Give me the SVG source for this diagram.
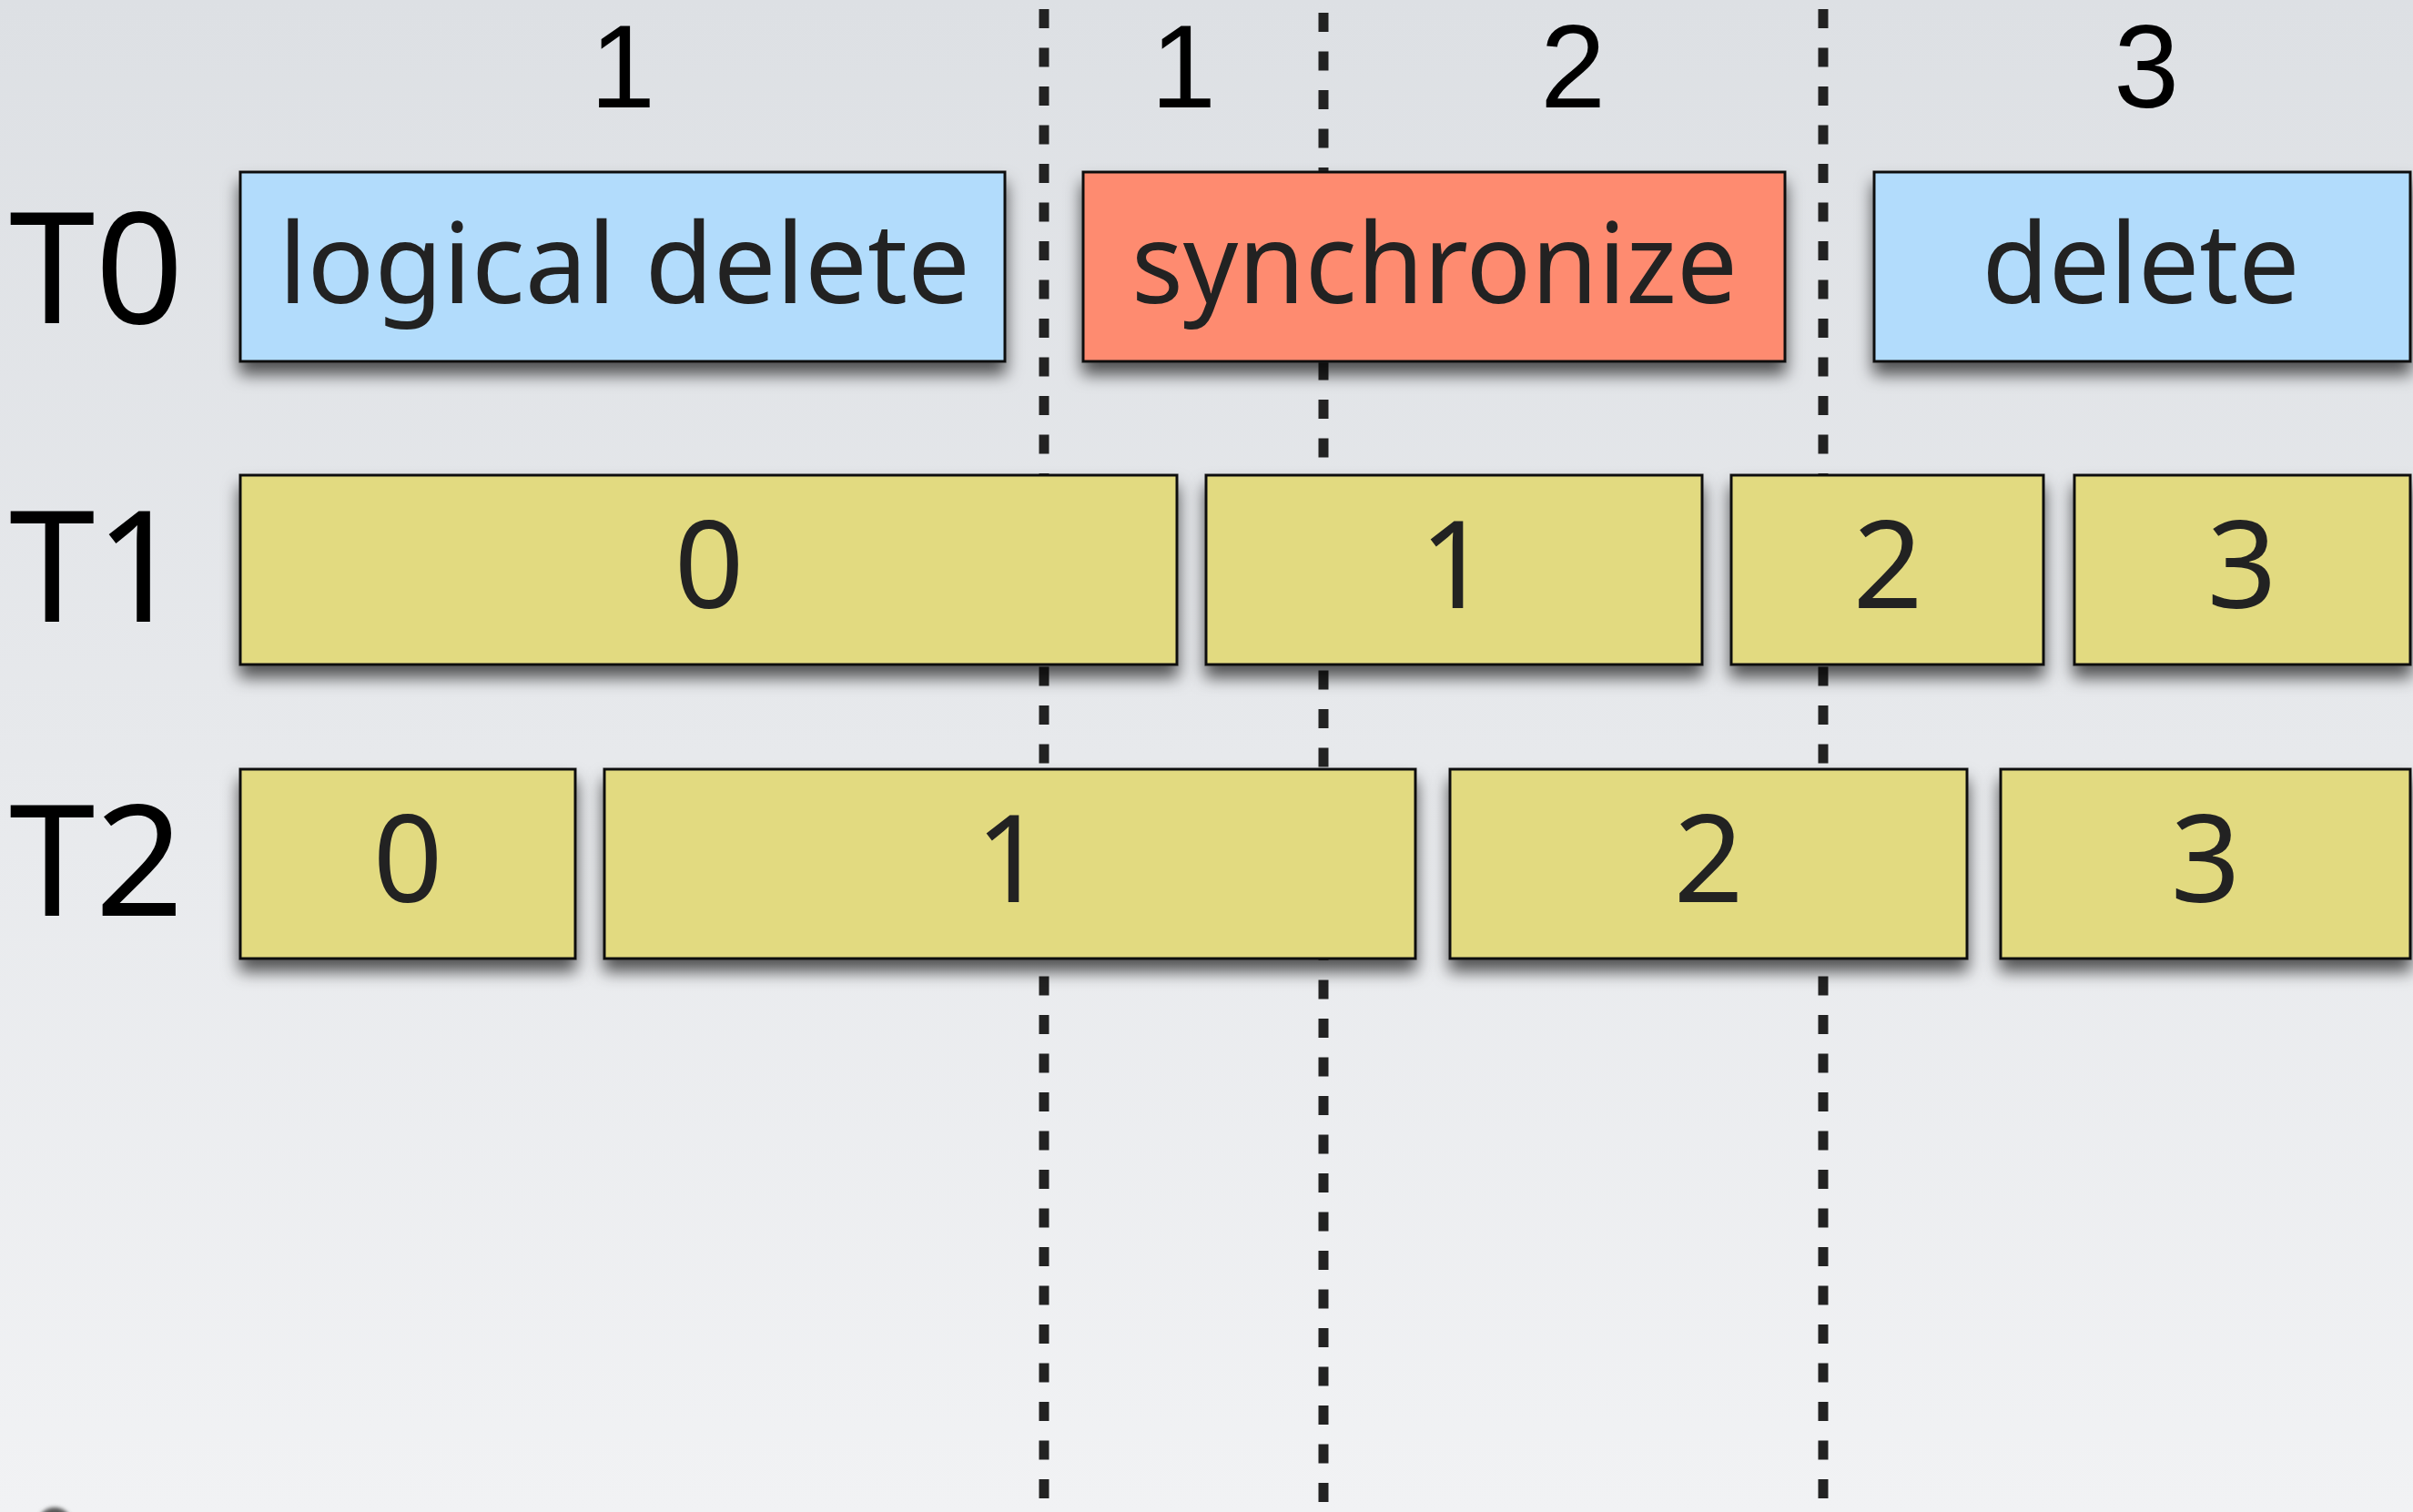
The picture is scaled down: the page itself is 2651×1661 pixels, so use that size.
<svg xmlns="http://www.w3.org/2000/svg" width="2651" height="1661" viewBox="0 0 2651 1661">
<defs>
<linearGradient id="bg" x1="0" y1="0" x2="0" y2="1">
<stop offset="0" stop-color="#dde0e4"/>
<stop offset="1" stop-color="#f1f2f4"/>
</linearGradient>
<filter id="shadow" x="-10%" y="-20%" width="120%" height="160%">
<feDropShadow dx="0" dy="13" stdDeviation="9" flood-color="#000" flood-opacity="0.65"/>
</filter>
<filter id="blur" x="-50%" y="-50%" width="200%" height="200%">
<feGaussianBlur stdDeviation="2"/>
</filter>
</defs>
<style>
.box{stroke:#111;stroke-width:3;filter:url(#shadow)}
.blue{fill:#b2dcfc}
.red{fill:#fe8b70}
.yel{fill:#e2da80}
.lbl{font-family:"Noto Sans","Open Sans",sans-serif;fill:#222;text-anchor:middle}
.big{font-size:122px}
.dig{font-size:134px}
.top{font-family:"Liberation Sans",Arial,sans-serif;font-size:129px;fill:#000;text-anchor:middle}
.row{font-family:"Noto Sans","Open Sans",sans-serif;font-size:170px;fill:#000}
.div{stroke:#222;stroke-width:11;stroke-dasharray:21 21.5;fill:none}
</style>
<rect x="0" y="0" width="2651" height="1661" fill="url(#bg)"/>
<ellipse cx="60" cy="1672" rx="18" ry="16" fill="#555" filter="url(#blur)"/>

<g id="dividers">
<line class="div" x1="1147" y1="10" x2="1147" y2="1661"/>
<line class="div" x1="1454" y1="14" x2="1454" y2="1661"/>
<line class="div" x1="2003" y1="10" x2="2003" y2="1661"/>
</g>

<g id="phase-labels">
<text class="top" x="684" y="118">1</text>
<text class="top" x="1300" y="118">1</text>
<text class="top" x="1728" y="118">2</text>
<text class="top" x="2358" y="118">3</text>
</g>

<g id="row-labels">
<text class="row" x="10" y="355">T0</text>
<text class="row" x="10" y="683">T1</text>
<text class="row" x="10" y="1006">T2</text>
</g>

<g id="t0-logical-delete">
<rect class="box blue" x="264" y="189" width="840" height="208"/>
<text class="lbl big" x="686" y="333" textLength="760" lengthAdjust="spacingAndGlyphs">logical delete</text>
</g>
<g id="t0-synchronize">
<rect class="box red" x="1190" y="189" width="771" height="208"/>
<text class="lbl big" x="1576" y="333" textLength="666" lengthAdjust="spacingAndGlyphs">synchronize</text>
</g>
<g id="t0-delete">
<rect class="box blue" x="2059" y="189" width="589" height="208"/>
<text class="lbl big" x="2352" y="333" textLength="349" lengthAdjust="spacingAndGlyphs">delete</text>
</g>

<g id="t1-0">
<rect class="box yel" x="264" y="522" width="1029" height="208"/>
<text class="lbl dig" x="779" y="668">0</text>
</g>
<g id="t1-1">
<rect class="box yel" x="1325" y="522" width="545" height="208"/>
<text class="lbl dig" x="1598" y="668">1</text>
</g>
<g id="t1-2">
<rect class="box yel" x="1902" y="522" width="343" height="208"/>
<text class="lbl dig" x="2074" y="668">2</text>
</g>
<g id="t1-3">
<rect class="box yel" x="2279" y="522" width="369" height="208"/>
<text class="lbl dig" x="2463" y="668">3</text>
</g>

<g id="t2-0">
<rect class="box yel" x="264" y="845" width="368" height="208"/>
<text class="lbl dig" x="448" y="991">0</text>
</g>
<g id="t2-1">
<rect class="box yel" x="664" y="845" width="891" height="208"/>
<text class="lbl dig" x="1110" y="991">1</text>
</g>
<g id="t2-2">
<rect class="box yel" x="1593" y="845" width="568" height="208"/>
<text class="lbl dig" x="1877" y="991">2</text>
</g>
<g id="t2-3">
<rect class="box yel" x="2198" y="845" width="450" height="208"/>
<text class="lbl dig" x="2423" y="991">3</text>
</g>
</svg>
